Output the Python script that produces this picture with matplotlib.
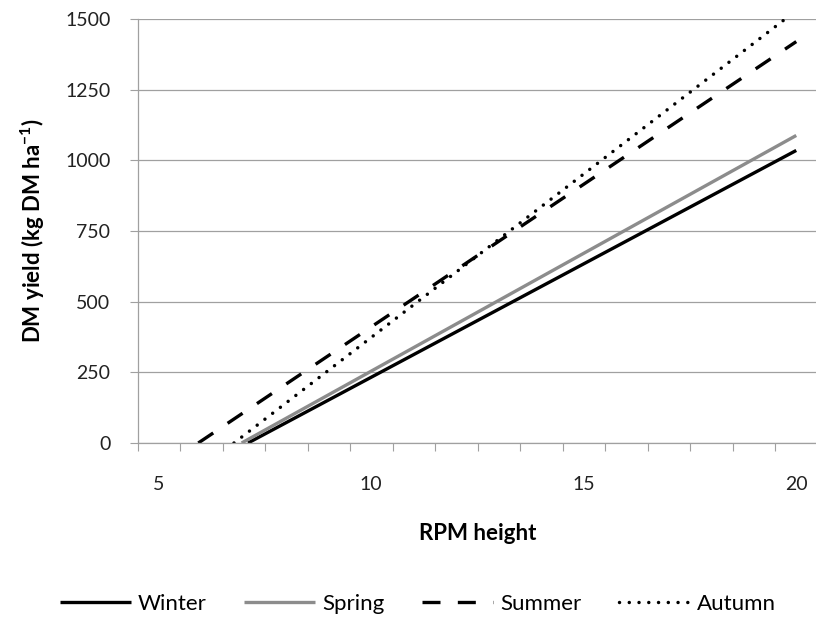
import numpy as np
import matplotlib
matplotlib.use("Agg")
import matplotlib.pyplot as plt

plt.rcParams['font.family'] = ['Lato', 'DejaVu Sans']
plt.rcParams['mathtext.fontset'] = 'custom'
plt.rcParams['mathtext.rm'] = 'Lato'

# values (straight lines, start and end points)
seasons = ["Winter", "Spring", "Summer", "Autumn"]
winter_x = [7.1, 20]
winter_y = [0, 1035]
spring_x = [6.95, 20]
spring_y = [0, 1088]
summer_x = [5.93, 20]
summer_y = [0, 1420]
autumn_x = [6.77, 20]
autumn_y = [0, 1530]

x_labels = [5, 10, 15, 20]
y_ticks = [0, 250, 500, 750, 1000, 1250, 1500]

grey = "#a0a0a0"

fig = plt.figure(figsize=(8.16, 6.2), dpi=100)
ax = fig.add_axes([137.5 / 816, 177 / 620, 680 / 816, 424 / 620])

ax.plot(winter_x, winter_y, color="black", lw=2.4, solid_capstyle="butt", label=seasons[0])
ax.plot(spring_x, spring_y, color="#8c8c8c", lw=2.4, solid_capstyle="butt", label=seasons[1])
ax.plot(summer_x, summer_y, color="black", lw=2.4, ls=(0, (5.4, 5.2)), dash_capstyle="butt", label=seasons[2])
ax.plot(autumn_x, autumn_y, color="black", lw=2.5, ls=(0, (0.01, 2.8)), dash_capstyle="round", label=seasons[3])

ax.set_xlim(4.5, 20.5)
ax.set_ylim(0, 1500)
ax.set_xticks(x_labels)
ax.set_xticks(np.arange(4.5, 20.6, 1), minor=True)
ax.set_yticks(y_ticks)
ax.tick_params(axis="x", which="major", length=0, pad=24, labelsize=14, labelcolor="#222222")
ax.tick_params(axis="x", which="minor", length=5.5, width=0.8, color=grey, direction="out")
ax.tick_params(axis="y", length=5.5, width=0.8, color=grey, pad=14, labelsize=14, labelcolor="#222222")

ax.grid(axis="y", color=grey, lw=0.9)
ax.set_axisbelow(True)
for s in ["top", "right"]:
    ax.spines[s].set_visible(False)
for s in ["left", "bottom"]:
    ax.spines[s].set_color(grey)
    ax.spines[s].set_linewidth(0.9)

ax.set_xlabel("RPM height", fontsize=16, fontweight="bold", va="center")
ax.xaxis.set_label_coords(0.5, -0.2146)
ax.set_ylabel("DM yield (kg DM ha$^{\\mathregular{-1}}$)", fontsize=16, fontweight="bold", va="center")
ax.yaxis.set_label_coords(-0.1537, 0.5)

fig.legend(loc="center", bbox_to_anchor=(0.512, 0.026), ncol=4, frameon=False, fontsize=16,
           handlelength=3.2, handletextpad=0.3, columnspacing=1.7)

fig.savefig("out.png", dpi=100)
